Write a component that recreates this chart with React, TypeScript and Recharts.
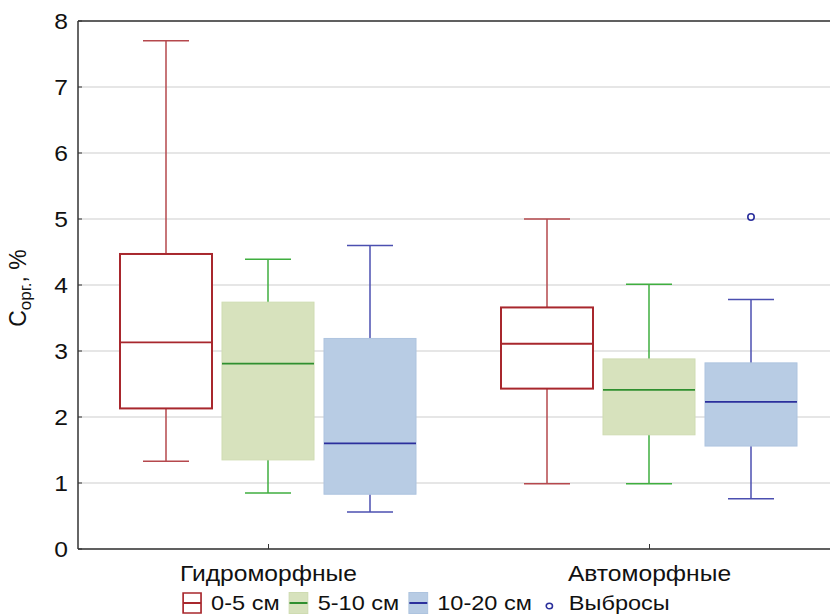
import React from "react"
import { Bar, BarChart, CartesianGrid, ReferenceLine, XAxis, YAxis } from "recharts"

// [min, q1, median, q3, max] per category
const categories = ["Гидроморфные", "Автоморфные"]
const box0to5 = [
  [1.33, 2.13, 3.13, 4.47, 7.7],
  [0.99, 2.43, 3.11, 3.66, 5.0],
]
const box5to10 = [
  [0.85, 1.35, 2.81, 3.74, 4.39],
  [0.99, 1.73, 2.41, 2.88, 4.01],
]
const box10to20 = [
  [0.56, 0.83, 1.6, 3.19, 4.6],
  [0.76, 1.56, 2.23, 2.82, 3.78],
]
const outliers10to20 = [[], [5.03]]
const yTicks = [0, 1, 2, 3, 4, 5, 6, 7, 8]

const data = categories.map((name, i) => ({
  name,
  d05: box0to5[i],
  d510: box5to10[i],
  d1020: box10to20[i],
  out1020: outliers10to20[i],
}))

const FONT = "'Liberation Sans', Arial, sans-serif"
const STRETCH = 1.12

type BoxStyle = {
  fill: string
  border: string
  borderWidth: number
  median: string
  whisker: string
}

const styles: Record<string, BoxStyle> = {
  d05: { fill: "#ffffff", border: "#a8272d", borderWidth: 2, median: "#a8272d", whisker: "#b5484d" },
  d510: { fill: "#d7e2bd", border: "#cfdcb2", borderWidth: 1, median: "#2f8f2f", whisker: "#3fae3f" },
  d1020: { fill: "#b8cce4", border: "#aec4df", borderWidth: 1, median: "#2b2f9c", whisker: "#4b4fb0" },
}

const makeBoxShape = (key: string, outKey?: string) => (props: any) => {
  const { x, y, width, height, payload } = props
  const s = styles[key]
  const [mn, q1, med, q3, mx] = payload[key] as number[]
  const top = Math.min(y, y + height)
  const bottom = Math.max(y, y + height)
  const k = (bottom - top) / (mx - mn)
  const toY = (v: number) => top + (mx - v) * k
  const cx = x + width / 2
  const capHalf = width / 4
  const outs: number[] = outKey ? payload[outKey] : []
  return (
    <g>
      <line x1={cx} x2={cx} y1={toY(mx)} y2={toY(q3)} stroke={s.whisker} strokeWidth={1.5} />
      <line x1={cx} x2={cx} y1={toY(q1)} y2={toY(mn)} stroke={s.whisker} strokeWidth={1.5} />
      <line x1={cx - capHalf} x2={cx + capHalf} y1={toY(mx)} y2={toY(mx)} stroke={s.whisker} strokeWidth={1.5} />
      <line x1={cx - capHalf} x2={cx + capHalf} y1={toY(mn)} y2={toY(mn)} stroke={s.whisker} strokeWidth={1.5} />
      <rect
        x={x}
        y={toY(q3)}
        width={width}
        height={toY(q1) - toY(q3)}
        fill={s.fill}
        stroke={s.border}
        strokeWidth={s.borderWidth}
      />
      <line x1={x} x2={x + width} y1={toY(med)} y2={toY(med)} stroke={s.median} strokeWidth={1.8} />
      {outs.map((v, i) => (
        <circle key={i} cx={cx} cy={toY(v)} r={3.2} fill="#fff" stroke={s.median} strokeWidth={1.6} />
      ))}
    </g>
  )
}

const XTick = (props: any) => {
  const { x, y, payload } = props
  return (
    <g>
      <line x1={x} x2={x} y1={y} y2={y - 5} stroke="#333" strokeWidth={1} />
      <text
        transform={`translate(${x}, ${y + 32}) scale(${STRETCH}, 1)`}
        textAnchor="middle"
        fontSize={22}
        fontFamily={FONT}
        fill="#111"
      >
        {payload.value}
      </text>
    </g>
  )
}

const YTick = (props: any) => {
  const { x, y, payload } = props
  return (
    <g>
      <line x1={x + 10} x2={x + 14} y1={y} y2={y} stroke="#333" strokeWidth={1} />
      <text
        transform={`translate(${x}, ${y + 7.8}) scale(${STRETCH}, 1)`}
        textAnchor="end"
        fontSize={22}
        fontFamily={FONT}
        fill="#111"
      >
        {payload.value}
      </text>
    </g>
  )
}

const YLabel = () => (
  <text
    transform="translate(26, 288) rotate(-90)"
    textAnchor="middle"
    fontSize={23}
    fontFamily={FONT}
    fill="#111"
  >
    C
    <tspan fontSize={17} dy={5}>
      орг.
    </tspan>
    <tspan dy={-5}>, %</tspan>
  </text>
)

const legendItems = [
  { label: "0-5 см", key: "d05" },
  { label: "5-10 см", key: "d510" },
  { label: "10-20 см", key: "d1020" },
]

const ChartLegend = () => (
  <div
    style={{
      position: "absolute",
      left: 182,
      top: 592,
      display: "flex",
      alignItems: "center",
      fontFamily: FONT,
      fontSize: 21,
      lineHeight: "22px",
      color: "#111",
      transform: `scaleX(${STRETCH})`,
      transformOrigin: "left top",
      whiteSpace: "nowrap",
    }}
  >
    {legendItems.map((it) => {
      const s = styles[it.key]
      const isFirst = it.key === "d05"
      return (
        <div key={it.key} style={{ display: "flex", alignItems: "center", marginRight: 8 }}>
          <svg width={18} height={22} style={{ marginRight: 8, display: "block" }}>
            <rect
              x={isFirst ? 1 : 0.5}
              y={isFirst ? 1 : 0.5}
              width={isFirst ? 16 : 17}
              height={isFirst ? 20 : 21}
              fill={s.fill}
              stroke={s.border}
              strokeWidth={isFirst ? 1.5 : 1}
            />
            <line x1={1} x2={17} y1={11} y2={11} stroke={s.median} strokeWidth={1.8} />
          </svg>
          <span>{it.label}</span>
        </div>
      )
    })}
    <div style={{ display: "flex", alignItems: "center", marginLeft: 2 }}>
      <svg width={12} height={22} style={{ marginRight: 11, display: "block" }}>
        <circle cx={6} cy={14} r={2.8} fill="#fff" stroke="#2b2f9c" strokeWidth={1.4} />
      </svg>
      <span>Выбросы</span>
    </div>
  </div>
)

export default function App() {
  return (
    <div style={{ position: "absolute", left: 0, top: 0, width: 830, height: 616, overflow: "hidden", background: "#fff" }}>
      <BarChart
        width={840}
        height={616}
        data={data}
        margin={{ top: 21, right: 0, bottom: 37, left: 0 }}
        barCategoryGap={42}
        barGap={10}
      >
        <CartesianGrid vertical={false} stroke="#dedede" strokeWidth={1.5} />
        <XAxis
          dataKey="name"
          axisLine={{ stroke: "#333", strokeWidth: 1.5 }}
          tickLine={false}
          tickSize={0}
          tickMargin={0}
          height={30}
          tick={<XTick />}
        />
        <YAxis
          domain={[0, 8]}
          ticks={yTicks}
          width={78}
          axisLine={{ stroke: "#333", strokeWidth: 1.5 }}
          tickLine={false}
          tickSize={0}
          tickMargin={10}
          tick={<YTick />}
          label={<YLabel />}
        />
        <ReferenceLine y={8} stroke="#333" strokeWidth={1.5} />
        <Bar dataKey={(d: any) => [d.d05[0], d.d05[4]]} name="0-5 см" isAnimationActive={false} shape={makeBoxShape("d05")} />
        <Bar dataKey={(d: any) => [d.d510[0], d.d510[4]]} name="5-10 см" isAnimationActive={false} shape={makeBoxShape("d510")} />
        <Bar
          dataKey={(d: any) => [d.d1020[0], d.d1020[4]]}
          name="10-20 см"
          isAnimationActive={false}
          shape={makeBoxShape("d1020", "out1020")}
        />
      </BarChart>
      <ChartLegend />
    </div>
  )
}
